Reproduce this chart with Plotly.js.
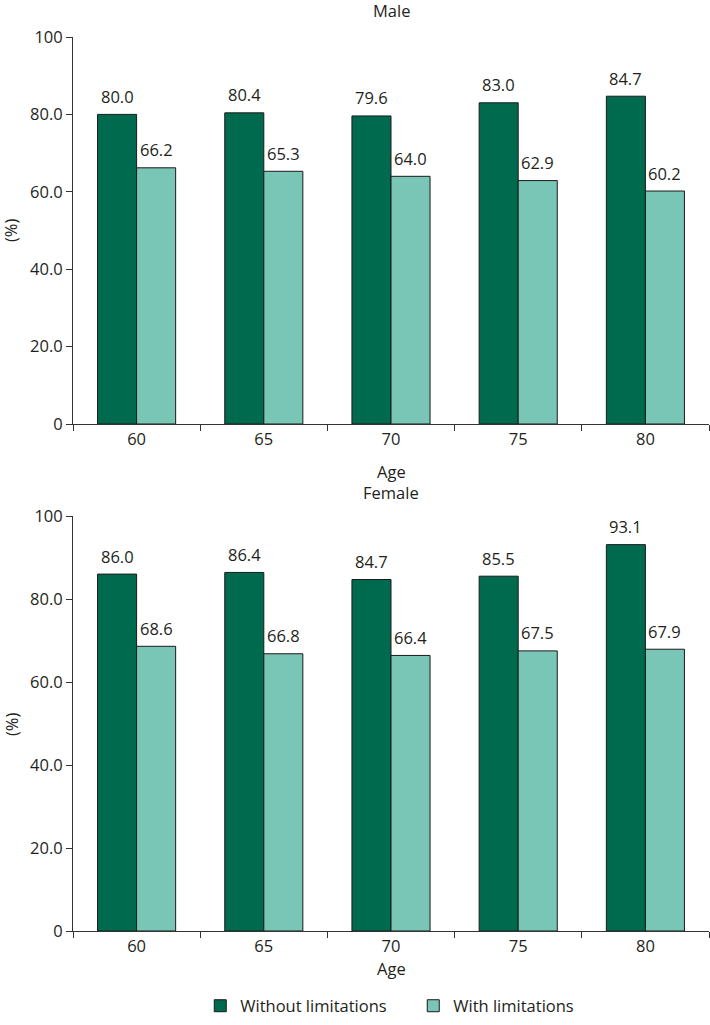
<!DOCTYPE html>
<html>
<head>
<meta charset="utf-8">
<script src="https://cdn.plot.ly/plotly-3.0.1.min.js"></script>
<style>html,body{margin:0;padding:0;background:#fff;}#chart{width:710px;height:1025px;}</style>
</head>
<body>
<div id="chart"></div>
<script>
const ages = ["60", "65", "70", "75", "80"];
const maleWithout = [80.0, 80.4, 79.6, 83.0, 84.7];
const maleWith = [66.2, 65.3, 64.0, 62.9, 60.2];
const femaleWithout = [86.0, 86.4, 84.7, 85.5, 93.1];
const femaleWith = [68.6, 66.8, 66.4, 67.5, 67.9];
const yTickVals = [0, 20, 40, 60, 80, 100];
const yTickText = ["0", "20.0", "40.0", "60.0", "80.0", "100"];
const seriesNames = ["Without limitations", "With limitations"];
const panelTitles = ["Male", "Female"];

const FONT = "'Open Sans', Lato, sans-serif";
const TXT = "#231f20";
const DARK = "#006a4f";
const LIGHT = "#7ac6b6";
const FS = 16.5;

function bar(x, y, name, color, xa, ya, showlegend) {
  return {
    type: "bar", x: x, y: y, name: name, xaxis: xa, yaxis: ya,
    marker: {color: color, line: {color: "#1a1a1a", width: 1}},
    showlegend: showlegend, legendgroup: name, hoverinfo: "none"
  };
}

const data = [
  bar(ages, maleWithout, seriesNames[0], DARK, "x", "y", true),
  bar(ages, maleWith, seriesNames[1], LIGHT, "x", "y", true),
  bar(ages, femaleWithout, seriesNames[0], DARK, "x2", "y2", false),
  bar(ages, femaleWith, seriesNames[1], LIGHT, "x2", "y2", false)
];

function xax(anchor) {
  return {
    anchor: anchor, type: "category", range: [-0.5, 4.5],
    showline: true, linecolor: "#333", linewidth: 1,
    ticks: "outside", ticklen: 6, tickcolor: "#333", tickson: "boundaries",
    showgrid: false, zeroline: false,
    tickfont: {family: FONT, size: FS, color: TXT}
  };
}
function yax(anchor, domain) {
  return {
    anchor: anchor, domain: domain, range: [0, 100],
    tickvals: yTickVals, ticktext: yTickText,
    showline: true, linecolor: "#333", linewidth: 1,
    ticks: "outside", ticklen: 6, tickcolor: "#333",
    showgrid: false, zeroline: false,
    tickfont: {family: FONT, size: FS, color: TXT}
  };
}

const H = 1025;
const py = px => 1 - px / H;

const ann = (text, x, y, extra) => Object.assign({
  text: text, xref: "paper", yref: "paper", x: x, y: y,
  showarrow: false, font: {family: FONT, size: FS, color: TXT},
  xanchor: "center", yanchor: "middle"
}, extra || {});

function valueLabels(vals, xa, ya, shift) {
  return vals.map((v, i) => ({
    text: v.toFixed(1), x: i, y: v, xref: xa, yref: ya,
    xshift: shift, yshift: 18, showarrow: false,
    font: {family: FONT, size: FS, color: TXT},
    xanchor: "center", yanchor: "middle"
  }));
}

const layout = {
  width: 710, height: 1025,
  margin: {l: 73, r: 1, t: 0, b: 0},
  paper_bgcolor: "#fff", plot_bgcolor: "#fff",
  barmode: "group", bargap: 0.386, bargroupgap: 0,
  xaxis: xax("y"),
  yaxis: yax("x", [py(424), py(37)]),
  xaxis2: xax("y2"),
  yaxis2: yax("x2", [py(931), py(516)]),
  showlegend: true,
  legend: {
    orientation: "h", x: 0.535, xanchor: "center", y: py(1006), yanchor: "middle",
    font: {family: FONT, size: FS, color: TXT}, traceorder: "normal",
    entrywidth: 168, entrywidthmode: "pixels"
  },
  annotations: [
    ann(panelTitles[0], 0.5, py(10)),
    ann("Age", 0.5, py(472)),
    ann(panelTitles[1], 0.5, py(492)),
    ann("Age", 0.5, py(968)),
    ann("(%)", 0, py(230), {xshift: -62, textangle: -90}),
    ann("(%)", 0, py(724), {xshift: -62, textangle: -90})
  ].concat(
    valueLabels(maleWithout, "x", "y", -19.5),
    valueLabels(maleWith, "x", "y", 19.5),
    valueLabels(femaleWithout, "x2", "y2", -19.5),
    valueLabels(femaleWith, "x2", "y2", 19.5)
  )
};

Plotly.newPlot("chart", data, layout, {displayModeBar: false, staticPlot: true});
</script>
</body>
</html>
